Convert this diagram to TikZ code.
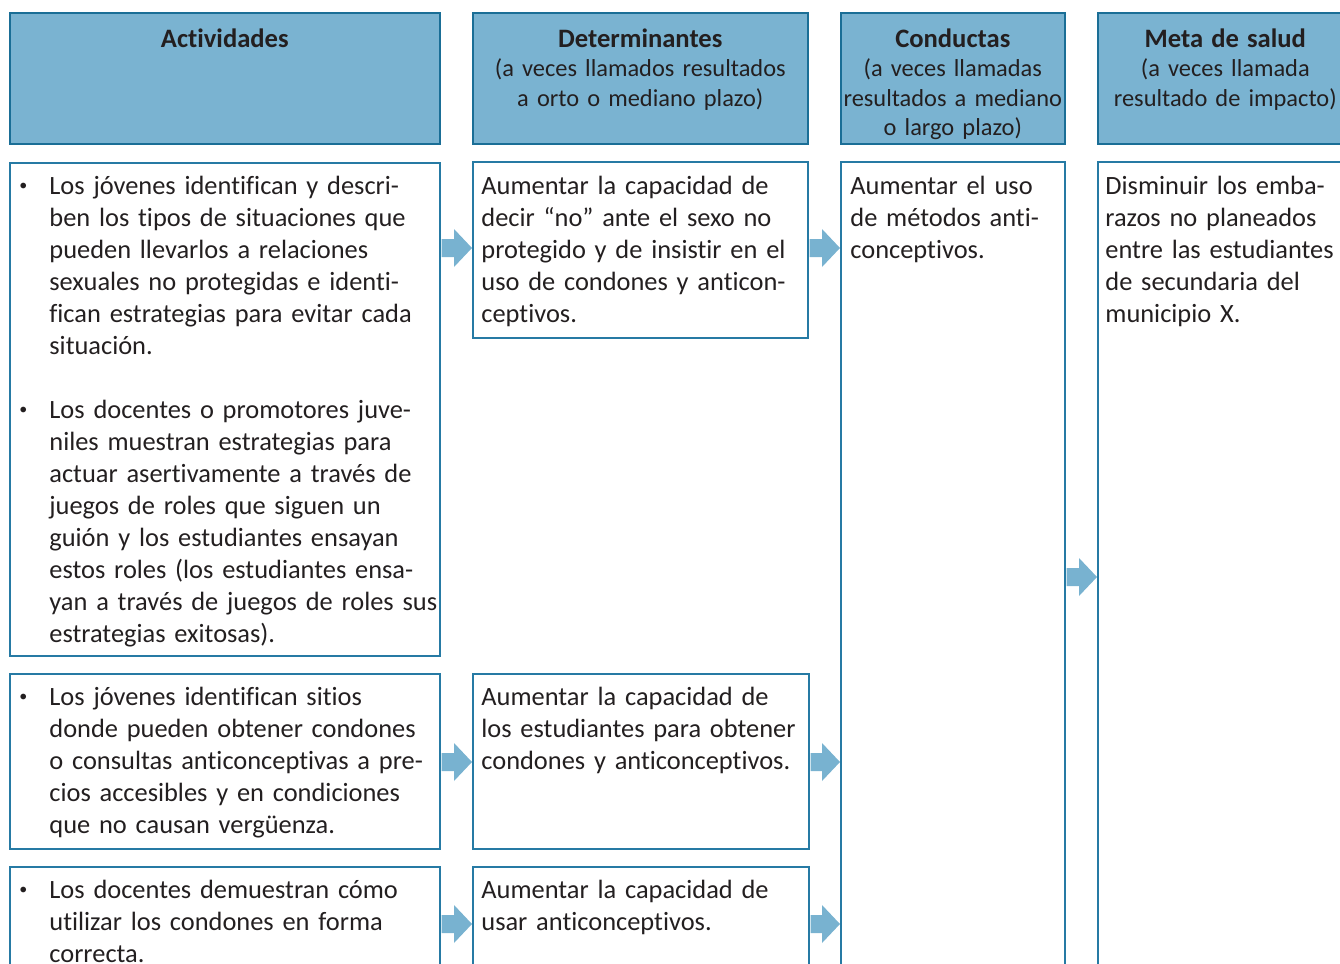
\documentclass[tikz,border=0pt]{standalone}
\usepackage{fontspec}
\setmainfont{Carlito}[Ligatures=NoCommon]
\usetikzlibrary{calc}

\definecolor{headfill}{RGB}{122,179,209}
\definecolor{headline}{RGB}{26,110,150}
\definecolor{boxline}{RGB}{38,122,164}
\definecolor{arrowfill}{RGB}{120,178,208}
\definecolor{txt}{RGB}{35,31,32}

\newcommand{\titlefont}{\fontsize{13.3}{14.75}\selectfont\bfseries}
\newcommand{\bul}{\makebox[15.5pt][l]{\hspace{0.5pt}\raisebox{0.25ex}{\fontsize{8}{8}\selectfont\textbullet}}}
\newcommand{\ind}{\hspace*{15.5pt}}
% block arrow from box #1 to box #2 at height #3
\newcommand{\blockarrow}[3]{%
  \fill[arrowfill] ($(#1.east |- 0,#3)+(1,-9)$) -- ($(#2.west |- 0,#3)+(-18,-9)$)
    -- ++(0,-10) -- (#2.west |- 0,#3) -- ++(-18,19) -- ++(0,-10)
    -- ($(#1.east |- 0,#3)+(1,9)$) -- cycle;}

\begin{document}
\begin{tikzpicture}[x=0.5pt,y=-0.5pt,
  head/.style={draw=headline,fill=headfill,line width=0.8pt,anchor=north west,inner sep=0pt},
  cell/.style={draw=boxline,line width=0.8pt,anchor=north west,inner sep=0pt},
  headtext/.style={anchor=base,align=center,inner sep=0pt,text=txt,
    font=\fontsize{12.2}{14.75}\selectfont},
  bodytext/.style={anchor=base west,align=left,inner sep=0pt,text=txt,text width=260pt,
    font=\fontsize{13.2}{16}\selectfont}]
\useasboundingbox (0,0) rectangle (1340,964);
\clip (0,0) rectangle (1340,964);

% column heads
\node[head,minimum width=215pt,minimum height=65.5pt] (hact) at (9,12) {};
\node[head,minimum width=167.5pt,minimum height=65.5pt] (hdet) at (472,12) {};
\node[head,minimum width=112pt,minimum height=65.5pt] (hcon) at (840,12) {};
\node[head,minimum width=127.5pt,minimum height=65.5pt] (hmeta) at (1097,12) {};

\node[headtext,text width=200pt] (hactt) at ([yshift=-17.5pt]hact.north) {{\titlefont Actividades}};
\node[headtext,text width=165pt] (hdett) at ([yshift=-17.5pt]hdet.north)
  {{\titlefont Determinantes}\\(a veces llamados resultados\\a orto o mediano plazo)};
\node[headtext,text width=120pt] (hcont) at ([yshift=-17.5pt]hcon.north)
  {{\titlefont Conductas}\\(a veces llamadas\\resultados a mediano\\o largo plazo)};
\node[headtext,text width=125pt] (hmetat) at ([yshift=-17.5pt]hmeta.north)
  {{\titlefont Meta de salud}\\(a veces llamada\\resultado de impacto)};

% boxes
\node[cell,minimum width=215pt,minimum height=246.5pt] (a1) at (9,162) {};
\node[cell,minimum width=215pt,minimum height=87.5pt] (a2) at (9,673) {};
\node[cell,minimum width=215pt,minimum height=75pt] (a3) at (9,866) {};
\node[cell,minimum width=167.5pt,minimum height=88pt] (d1) at (472,161) {};
\node[cell,minimum width=168pt,minimum height=87.5pt] (d2) at (472,673) {};
\node[cell,minimum width=168pt,minimum height=75pt] (d3) at (472,866) {};
\node[cell,minimum width=112pt,minimum height=420pt] (c1) at (840,161) {};
\node[cell,minimum width=127.5pt,minimum height=420pt] (m1) at (1097,161) {};

\node[bodytext] (a1t) at ([shift={(9,32)}]a1.north west)
  {\bul Los jóvenes identifican y descri-\\
   \ind ben los tipos de situaciones que\\
   \ind pueden llevarlos a relaciones\\
   \ind sexuales no protegidas e identi-\\
   \ind fican estrategias para evitar cada\\
   \ind situación.\\[16pt]
   \bul Los docentes o promotores juve-\\
   \ind niles muestran estrategias para\\
   \ind actuar asertivamente a través de\\
   \ind juegos de roles que siguen un\\
   \ind guión y los estudiantes ensayan\\
   \ind estos roles (los estudiantes ensa-\\
   \ind yan a través de juegos de roles sus\\
   \ind estrategias exitosas).};
\node[bodytext] (a2t) at ([shift={(9,32)}]a2.north west)
  {\bul Los jóvenes identifican sitios\\
   \ind donde pueden obtener condones\\
   \ind o consultas anticonceptivas a pre-\\
   \ind cios accesibles y en condiciones\\
   \ind que no causan vergüenza.};
\node[bodytext] (a3t) at ([shift={(9,32)}]a3.north west)
  {\bul Los docentes demuestran cómo\\
   \ind utilizar los condones en forma\\
   \ind correcta.};
\node[bodytext] (d1t) at ([shift={(9,33)}]d1.north west)
  {Aumentar la capacidad de\\decir “no” ante el sexo no\\protegido y de insistir en el\\
   uso de condones y anticon-\\ceptivos.};
\node[bodytext] (d2t) at ([shift={(9,32)}]d2.north west)
  {Aumentar la capacidad de\\los estudiantes para obtener\\condones y anticonceptivos.};
\node[bodytext] (d3t) at ([shift={(9,32)}]d3.north west)
  {Aumentar la capacidad de\\usar anticonceptivos.};
\node[bodytext] (c1t) at ([shift={(10,33)}]c1.north west)
  {Aumentar el uso\\de métodos anti-\\conceptivos.};
\node[bodytext] (m1t) at ([shift={(8,33)}]m1.north west)
  {Disminuir los emba-\\razos no planeados\\entre las estudiantes\\de secundaria del\\municipio X.};

% arrows
\blockarrow{a1}{d1}{248}
\blockarrow{d1}{c1}{248}
\blockarrow{a2}{d2}{762}
\blockarrow{d2}{c1}{762}
\blockarrow{a3}{d3}{924}
\blockarrow{d3}{c1}{924}
\blockarrow{c1}{m1}{577}
\end{tikzpicture}
\end{document}
